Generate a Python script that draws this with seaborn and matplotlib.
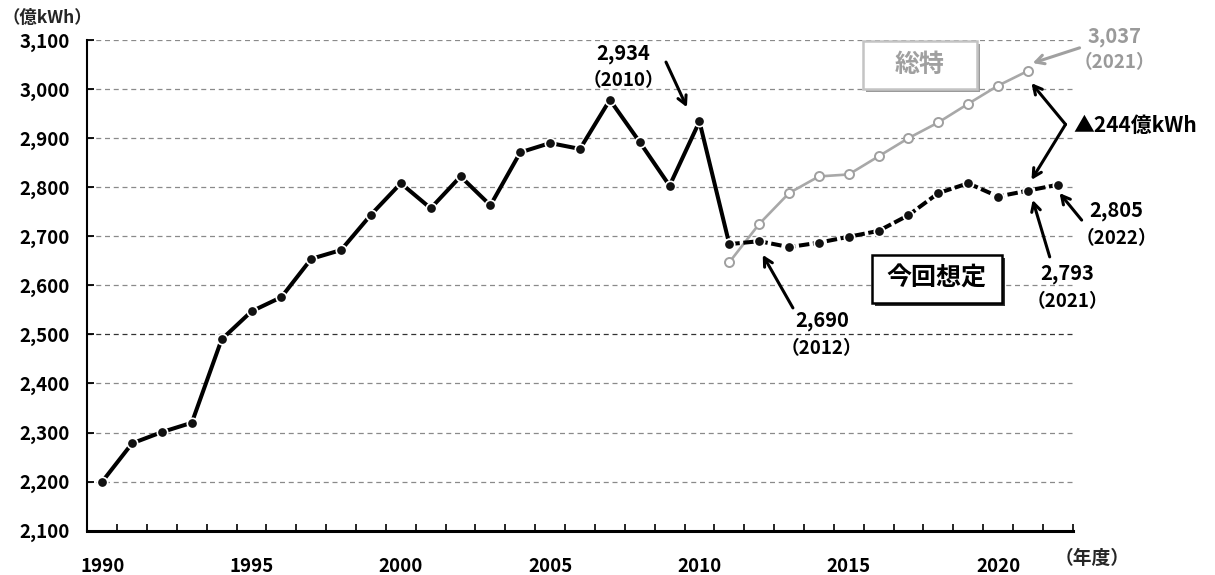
import matplotlib
matplotlib.use("Agg")
import matplotlib.pyplot as plt
import matplotlib.transforms as mtransforms
from matplotlib.patches import Rectangle
from matplotlib.ticker import FuncFormatter
import pandas as pd
import seaborn as sns

# 年度別の電力需要（億kWh）
years = list(range(1990, 2023))
demand = [2200, 2278, 2301, 2320, 2490, 2547, 2576, 2654, 2672, 2744, 2808,
          2757, 2822, 2763, 2871, 2890, 2878, 2978, 2892, 2803, 2934,
          2684, 2690, 2678, 2687, 2699, 2711, 2743, 2788, 2808, 2781, 2793, 2805]
last_actual_year = 2011

# 総特の想定
sotoku_years = list(range(2011, 2022))
sotoku = [2647, 2725, 2788, 2822, 2826, 2863, 2900, 2932, 2970, 3007, 3037]

y_ticks = list(range(2100, 3200, 100))
x_ticks = [1990, 1995, 2000, 2005, 2010, 2015, 2020]

sns.set_style("white")
plt.rcParams["font.family"] = ["Noto Sans CJK JP", "DejaVu Sans"]
plt.rcParams["font.weight"] = "bold"

df = pd.DataFrame({"year": years, "value": demand})
split = years.index(last_actual_year)
df_actual = df.iloc[:split + 1]
df_plan = df.iloc[split:]
df_sotoku = pd.DataFrame({"year": sotoku_years, "value": sotoku})

fig = plt.figure(figsize=(12.15, 5.75), dpi=100)
ax = fig.add_axes([87.3 / 1215, 44.3 / 575, 985.4 / 1215, 490.7 / 575])

# 総特（灰色・白抜きマーカー）
sns.lineplot(data=df_sotoku, x="year", y="value", ax=ax, color="#a8a8a8",
             linewidth=1.9, marker="o", markersize=6.5, markerfacecolor="white",
             markeredgecolor="#a0a0a0", markeredgewidth=1.4, zorder=3)
# 実績（黒・実線）
sns.lineplot(data=df_actual, x="year", y="value", ax=ax, color="black",
             linewidth=2.9, marker="o", markersize=7.5, markerfacecolor="#111111",
             markeredgecolor="white", markeredgewidth=1.2, zorder=4)
# 今回想定（黒・破線）
sns.lineplot(data=df_plan, x="year", y="value", ax=ax, color="black",
             linewidth=2.9, linestyle=(0, (2.6, 0.9)), marker="o", markersize=7.5,
             markerfacecolor="#111111", markeredgecolor="white",
             markeredgewidth=1.2, zorder=4)

ax.set_xlim(1989.5, 2022.5)
ax.set_ylim(2100, 3100)
ax.set_xlabel("")
ax.set_ylabel("")

ax.set_yticks(y_ticks)
ax.yaxis.set_major_formatter(FuncFormatter(lambda v, p: f"{int(v):,}"))
ax.set_xticks(x_ticks)
ax.set_xticks([y + 0.5 for y in range(1989, 2023)], minor=True)

ax.tick_params(axis="y", which="major", direction="in", length=5, width=1.3,
               pad=12.5, labelsize=13.5, colors="black", left=True)
ax.tick_params(axis="x", which="major", length=0, pad=19, labelsize=13.5,
               colors="black")
ax.tick_params(axis="x", which="minor", direction="in", length=5, width=1.2,
               bottom=True, colors="black")
for lab in ax.get_xticklabels() + ax.get_yticklabels():
    lab.set_fontweight("bold")

ax.grid(axis="y", color="#8a8a8a", linestyle=(0, (4, 3)), linewidth=0.9)
ax.grid(axis="x", visible=False)
for val, gl in zip(y_ticks, ax.get_ygridlines()):
    if val == 2500:
        gl.set_color("#333333")
ax.set_axisbelow(True)

for side in ("top", "right"):
    ax.spines[side].set_visible(False)
ax.spines["left"].set_linewidth(1.5)
ax.spines["left"].set_color("black")
ax.spines["bottom"].set_linewidth(2.2)
ax.spines["bottom"].set_color("black")

# 単位と年度
fig.text(3 / 1215, 1 - 18 / 575, "（億kWh）", ha="left", va="center",
         fontsize=12.5, fontweight="bold")
fig.text(1092 / 1215, 1 - 558 / 575, "（年度）", ha="center", va="center",
         fontsize=13.5, fontweight="bold")

arrow_black = dict(arrowstyle="->,head_length=0.6,head_width=0.32",
                   color="black", lw=2.2, shrinkA=0, shrinkB=0)
arrow_gray = dict(arrowstyle="->,head_length=0.6,head_width=0.32",
                  color="#a0a0a0", lw=2.2, shrinkA=0, shrinkB=0)

def callout(value, year, pos, color="black"):
    tx, ty, dy = pos
    ax.text(tx, ty, f"{value:,}", ha="center", va="center", fontsize=14.5,
            fontweight="bold", color=color, zorder=6)
    ax.text(tx, ty - dy, f"（{year}）", ha="center", va="center",
            fontsize=13.5, fontweight="bold", color=color, zorder=6)

# 2010年度の実績
callout(demand[years.index(2010)], 2010, (2007.45, 3073, 55))
ax.annotate("", xy=(2009.58, 2963), xytext=(2008.88, 3055),
            arrowprops=arrow_black, zorder=6)

# 総特の2021年度
callout(sotoku[sotoku_years.index(2021)], 2021, (2023.9, 3108, 55),
        color="#9a9a9a")
ax.annotate("", xy=(2021.16, 3053), xytext=(2022.73, 3084),
            arrowprops=arrow_gray, annotation_clip=False, zorder=6)

# 今回想定の各年度
callout(demand[years.index(2012)], 2012, (2014.1, 2529, 57))
ax.annotate("", xy=(2012.12, 2662), xytext=(2013.13, 2554),
            arrowprops=arrow_black, zorder=6)

callout(demand[years.index(2021)], 2021, (2022.33, 2625, 59))
ax.annotate("", xy=(2021.16, 2774), xytext=(2021.73, 2658),
            arrowprops=arrow_black, zorder=6)

callout(demand[years.index(2022)], 2022, (2023.97, 2753, 57))
ax.annotate("", xy=(2022.06, 2788), xytext=(2022.8, 2733),
            arrowprops=arrow_black, annotation_clip=False, zorder=6)

# 2021年度の差
gap = sotoku[sotoku_years.index(2021)] - demand[years.index(2021)]
ax.annotate("", xy=(2021.12, 3012), xytext=(2022.26, 2928),
            arrowprops=arrow_black, annotation_clip=False, zorder=6)
ax.annotate("", xy=(2021.12, 2815), xytext=(2022.26, 2928),
            arrowprops=arrow_black, annotation_clip=False, zorder=6)
ax.text(2022.52, 2926, f"▲{gap}億kWh", ha="left", va="center",
        fontsize=15, fontweight="bold", color="black", zorder=6)

# 系列名の枠
shadow = mtransforms.offset_copy(ax.transData, fig=fig, x=3, y=-3, units="dots")

def label_box(x0, y0, w, h, text, edge, shade, tcolor):
    ax.add_patch(Rectangle((x0, y0), w, h, transform=shadow, facecolor=shade,
                           edgecolor="none", zorder=6))
    ax.add_patch(Rectangle((x0, y0), w, h, facecolor="white", edgecolor=edge,
                           linewidth=1.8, zorder=7))
    ax.text(x0 + w / 2, y0 + h / 2, text, ha="center", va="center",
            fontsize=18, fontweight="bold", color=tcolor, zorder=8)

label_box(2015.47, 3001, 3.81, 96, "総特", "#c4c4c4", "#9a9a9a", "#a0a0a0")
label_box(2015.77, 2564, 4.35, 98, "今回想定", "black", "#333333", "black")

fig.savefig("out.png", dpi=100)
